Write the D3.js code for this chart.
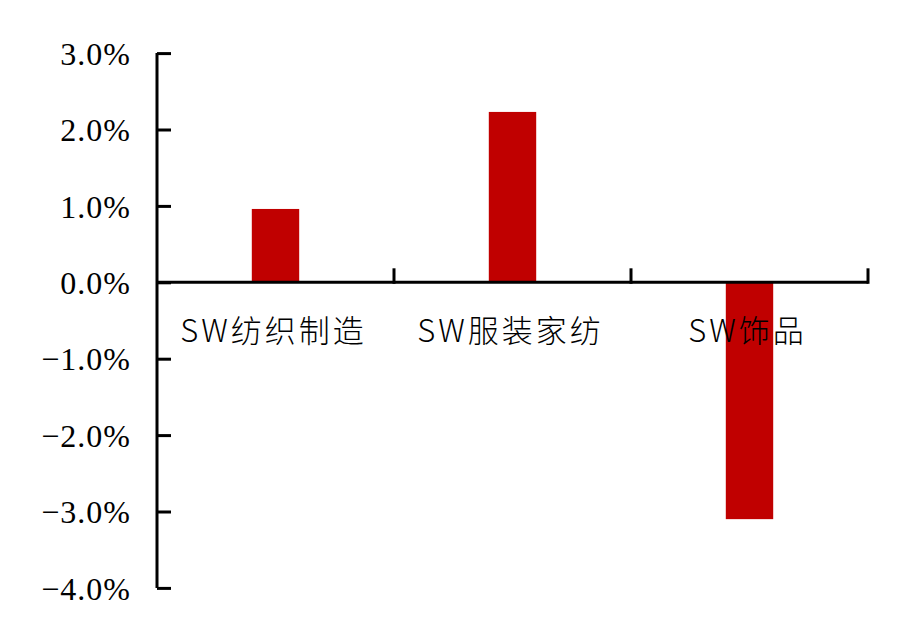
<!DOCTYPE html>
<html>
<head>
<meta charset="utf-8">
<script src="https://cdn.jsdelivr.net/npm/d3@7"></script>
<style>
  body { margin: 0; background: #fff; }
  .ylab { font-family: "Liberation Serif", "DejaVu Serif", serif; }
</style>
</head>
<body>
<div id="chart"></div>
<script>
var categories = ["SW纺织制造", "SW服装家纺", "SW饰品"];
var values = [0.0096, 0.0223, -0.0310];
var yTicks = [0.03, 0.02, 0.01, 0, -0.01, -0.02, -0.03, -0.04];

var width = 919;
var height = 639;
var plotLeft = 157, plotRight = 868, plotTop = 53.1, plotBottom = 587.9;
var tickLen = 14;

var svg = d3.select("#chart").append("svg")
  .attr("width", width)
  .attr("height", height);

var x = d3.scaleBand()
  .domain(categories)
  .range([plotLeft, plotRight])
  .paddingInner(0)
  .paddingOuter(0);

var y = d3.scaleLinear()
  .domain([-0.04, 0.03])
  .range([plotBottom, plotTop]);

var barWidth = x.bandwidth() * 0.2;

// bars
svg.append("g")
  .selectAll("rect")
  .data(values)
  .enter()
  .append("rect")
  .attr("x", function(d, i) { return x(categories[i]) + (x.bandwidth() - barWidth) / 2; })
  .attr("y", function(d) { return y(Math.max(0, d)); })
  .attr("width", barWidth)
  .attr("height", function(d) { return Math.abs(y(d) - y(0)); })
  .attr("fill", "#C00000");

// y axis, ticks pointing inward
var yAxis = d3.axisLeft(y)
  .tickValues(yTicks)
  .tickSize(-tickLen)
  .tickPadding(26)
  .tickFormat(d3.format(".1%"));

var gy = svg.append("g")
  .attr("transform", "translate(" + plotLeft + ",0)")
  .call(yAxis);

gy.attr("font-family", null);

gy.select(".domain")
  .attr("stroke", "#000")
  .attr("stroke-width", 3)
  .attr("d", "M0," + y(0.03) + "V" + y(-0.04));
gy.selectAll(".tick line")
  .attr("stroke", "#000")
  .attr("stroke-width", 3);
gy.selectAll(".tick text")
  .attr("class", "ylab")
  .attr("font-size", "32px")
  .attr("letter-spacing", "1px")
  .attr("fill", "#000")
  .attr("dy", "0.35em");

// x axis at zero, with boundary ticks pointing up
var y0 = y(0);
var gx = svg.append("g");

gx.append("line")
  .attr("x1", plotLeft)
  .attr("x2", plotRight)
  .attr("y1", y0)
  .attr("y2", y0)
  .attr("stroke", "#000")
  .attr("stroke-width", 3);

var bounds = categories.map(function(c) { return x(c) + x.bandwidth(); });

gx.selectAll("line.bound")
  .data(bounds)
  .enter()
  .append("line")
  .attr("class", "bound")
  .attr("x1", function(d) { return d; })
  .attr("x2", function(d) { return d; })
  .attr("y1", y0 + 1.5)
  .attr("y2", y0 - tickLen)
  .attr("stroke", "#000")
  .attr("stroke-width", 3);

gx.selectAll("text")
  .data(categories)
  .enter()
  .append("text")
  .text(function(d) { return d; })
  .attr("x", function(d) { return x(d) + x.bandwidth() / 2 - 2; })
  .attr("y", 342)
  .attr("text-anchor", "middle")
  .attr("font-family", "'Noto Sans CJK SC', sans-serif")
  .attr("font-size", "31px")
  .attr("font-weight", 300)
  .attr("letter-spacing", "3px")
  .attr("fill", "#000");
</script>
</body>
</html>
